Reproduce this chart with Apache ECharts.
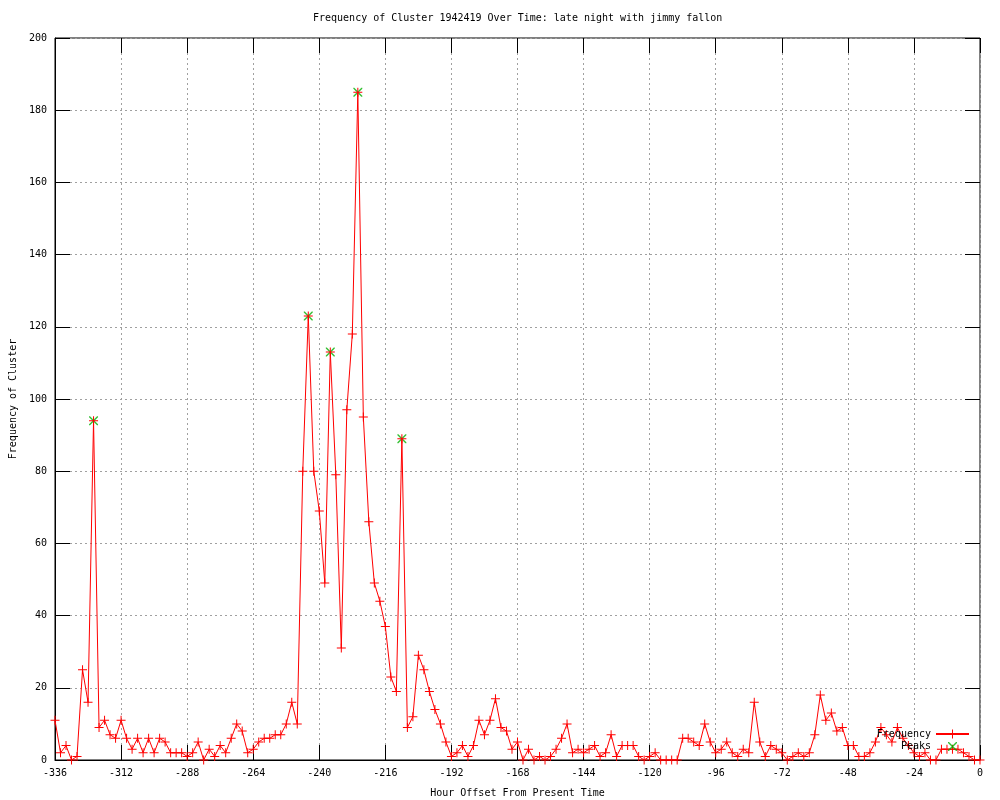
<!DOCTYPE html>
<html>
<head>
<meta charset="utf-8">
<script src="https://cdn.jsdelivr.net/npm/echarts@6/dist/echarts.min.js"></script>
<style>html,body{margin:0;padding:0;background:#fff}#c{width:1000px;height:800px}</style>
</head>
<body>
<div id="c"></div>
<script>
const hours = [-336,-334,-332,-330,-328,-326,-324,-322,-320,-318,-316,-314,-312,-310,-308,-306,-304,-302,-300,-298,-296,-294,-292,-290,-288,-286,-284,-282,-280,-278,-276,-274,-272,-270,-268,-266,-264,-262,-260,-258,-256,-254,-252,-250,-248,-246,-244,-242,-240,-238,-236,-234,-232,-230,-228,-226,-224,-222,-220,-218,-216,-214,-212,-210,-208,-206,-204,-202,-200,-198,-196,-194,-192,-190,-188,-186,-184,-182,-180,-178,-176,-174,-172,-170,-168,-166,-164,-162,-160,-158,-156,-154,-152,-150,-148,-146,-144,-142,-140,-138,-136,-134,-132,-130,-128,-126,-124,-122,-120,-118,-116,-114,-112,-110,-108,-106,-104,-102,-100,-98,-96,-94,-92,-90,-88,-86,-84,-82,-80,-78,-76,-74,-72,-70,-68,-66,-64,-62,-60,-58,-56,-54,-52,-50,-48,-46,-44,-42,-40,-38,-36,-34,-32,-30,-28,-26,-24,-22,-20,-18,-16,-14,-12,-10,-8,-6,-4,-2,0];
const frequency = [11,2,4,0,1,25,16,94,9,11,7,6,11,6,3,6,2,6,2,6,5,2,2,2,1,2,5,0,3,1,4,2,6,10,8,2,3,5,6,6,7,7,10,16,10,80,123,80,69,49,113,79,31,97,118,185,95,66,49,44,37,23,19,89,9,12,29,25,19,14,10,5,1,2,4,1,4,11,7,11,17,9,8,3,5,0,3,0,1,0,1,3,6,10,2,3,2,3,4,1,2,7,1,4,4,4,1,0,1,2,0,0,0,0,6,6,5,4,10,5,2,3,5,2,1,3,2,16,5,1,4,3,2,0,1,2,1,2,7,18,11,13,8,9,4,4,1,1,2,5,9,7,5,9,6,4,2,1,2,0,0,3,3,3,3,2,1,0,0];
const peakHours = [-322,-244,-236,-226,-210];
const peakValues = [94,123,113,185,89];
const xTicks = {min:-336, max:0, interval:24};
const yTicks = {min:0, max:200, interval:20};

const FONT = 'DejaVu Sans Mono';
const plusPath = 'path://M0,4H9V5H0Z M4,0H5V9H4Z';
const xPath = 'path://M0,0L1,0L9,8L9,9L8,9L0,1Z M8,0L9,0L9,1L1,9L0,9L0,8Z';
// legend icon for Peaks: small X centred in a 33x11 box
const xLegendPath = 'path://M0,0L0.01,0L0,0.01Z M33,11L32.99,11L33,10.99Z M12,1L13,1L21,9L21,10L20,10L12,2Z M20,1L21,1L21,2L13,10L12,10L12,9Z';

const freqData = hours.map((h,i)=>[h,frequency[i]]);
const peakData = peakHours.map((h,i)=>[h,peakValues[i]]);

const chart = echarts.init(document.getElementById('c'), null, {renderer:'canvas'});
function ticks(){ return {show:true, inside:true, length:15, lineStyle:{color:'#000', width:1}}; }
chart.setOption({
  animation:false,
  backgroundColor:'#fff',
  title:{text:'Frequency of Cluster 1942419 Over Time: late night with jimmy fallon', left:308, top:8,
    textStyle:{fontFamily:FONT, fontSize:10, fontWeight:'normal', color:'#000'}},
  grid:{left:55, right:20, top:38, bottom:40, show:true, borderColor:'#000', borderWidth:1,
    backgroundColor:'transparent', outerBoundsMode:'none', containLabel:false},
  legend:{orient:'vertical', right:30, top:729, padding:0, align:'right', itemWidth:33, itemHeight:11, itemGap:2,
    textStyle:{fontFamily:FONT, fontSize:10, color:'#000'},
    data:['Frequency',{name:'Peaks', icon:xLegendPath}], selectedMode:false},
  xAxis:[{type:'value', min:xTicks.min, max:xTicks.max, interval:xTicks.interval,
    name:'Hour Offset From Present Time', nameLocation:'middle', nameGap:28,
    nameTextStyle:{fontFamily:FONT, fontSize:10, color:'#000'},
    axisLine:{show:true, onZero:false, lineStyle:{color:'#000'}},
    axisTick:ticks(),
    axisLabel:{fontFamily:FONT, fontSize:10, color:'#000', margin:8},
    splitLine:{show:true, lineStyle:{color:'#a0a0a0', type:[2,3], width:1}}},
   {type:'value', position:'top', min:xTicks.min, max:xTicks.max, interval:xTicks.interval,
    axisLine:{show:false, onZero:false}, axisTick:ticks(), axisLabel:{show:false}, splitLine:{show:false}}],
  yAxis:[{type:'value', min:yTicks.min, max:yTicks.max, interval:yTicks.interval,
    name:'Frequency of Cluster', nameLocation:'middle', nameGap:36, nameRotate:90,
    nameTextStyle:{fontFamily:FONT, fontSize:10, color:'#000'},
    axisLine:{show:true, onZero:false, lineStyle:{color:'#000'}},
    axisTick:ticks(),
    axisLabel:{fontFamily:FONT, fontSize:10, color:'#000', margin:8},
    splitLine:{show:true, lineStyle:{color:'#a0a0a0', type:[2,3], width:1}}},
   {type:'value', position:'right', min:yTicks.min, max:yTicks.max, interval:yTicks.interval,
    axisLine:{show:false, onZero:false}, axisTick:ticks(), axisLabel:{show:false}, splitLine:{show:false}}],
  series:[
    {name:'Peaks', type:'scatter', data:peakData, symbol:xPath, symbolSize:9, symbolKeepAspect:true,
     itemStyle:{color:'#00b000'}, clip:false, z:2},
    {name:'Frequency', type:'line', data:freqData, symbol:plusPath, symbolSize:9, showSymbol:true, showAllSymbol:true,
     lineStyle:{color:'#ff0000', width:1}, itemStyle:{color:'#ff0000'}, clip:false, z:3}
  ]
});
</script>
</body>
</html>
